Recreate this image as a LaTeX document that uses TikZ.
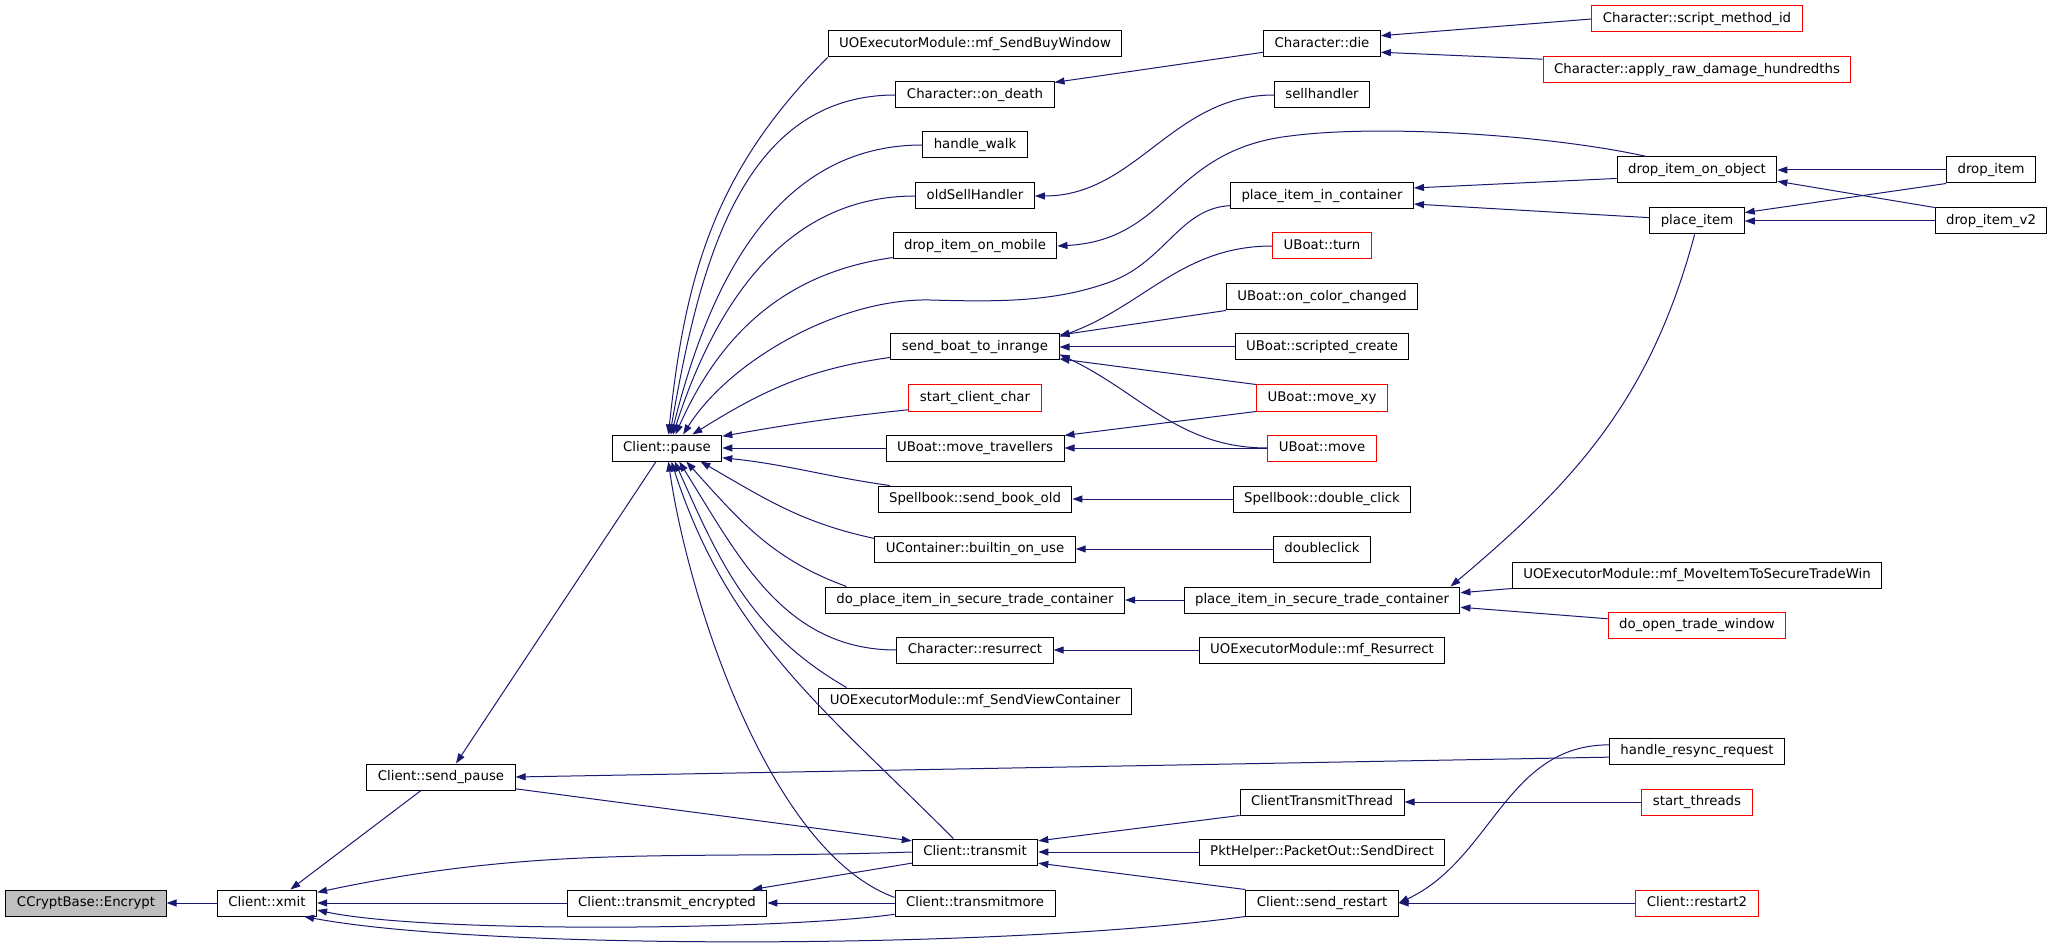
\documentclass[tikz,border=0pt]{standalone}
\usepackage{fontspec}
\setmainfont{DejaVu Sans}
\usetikzlibrary{arrows.meta}
\definecolor{calledge}{HTML}{191970}
\definecolor{rootfill}{HTML}{BFBFBF}
\tikzset{
    %Define standard arrow tip
    >={Triangle[length=10pt,width=7pt]},
    %Define style for function boxes
    func/.style={
           rectangle,
           draw=black, line width=1pt,
           minimum height=26pt,
           inner xsep=11pt, inner ysep=0pt,
           text height=10pt, text depth=3pt,
           font=\fontsize{13.3}{16}\selectfont},
    funcred/.style={
           func,
           draw=red},
    funcroot/.style={
           func,
           fill=rootfill},
    % Define arrow style
    call/.style={
           ->,
           draw=calledge,
           line width=1pt}
}
\begin{document}
\begin{tikzpicture}[x=1pt,y=-1pt,every edge/.style={call}]
\useasboundingbox (0,0) rectangle (2053,949);
 %nodes
\node[funcroot] (encrypt) at (86,903) {CCryptBase::Encrypt};
\node[func] (xmit) at (267,903) {Client::xmit};
\node[func] (sendpause) at (441,777) {Client::send\_pause};
\node[func] (pause) at (667,448) {Client::pause};
\node[func] (transmitenc) at (667,903) {Client::transmit\_encrypted};
 % second column
\node[func] (sendbuy) at (975,44) {UOExecutorModule::mf\_SendBuyWindow};
\node[func] (ondeath) at (975,95) {Character::on\_death};
\node[func] (handlewalk) at (975,145) {handle\_walk};
\node[func] (oldsell) at (975,196) {oldSellHandler};
\node[func] (dropmobile) at (975,246) {drop\_item\_on\_mobile};
\node[func] (sendboat) at (975,347) {send\_boat\_to\_inrange};
\node[funcred] (startclient) at (975,398) {start\_client\_char};
\node[func] (movetrav) at (975,448) {UBoat::move\_travellers};
\node[func] (sendbook) at (975,499) {Spellbook::send\_book\_old};
\node[func] (builtin) at (975,549) {UContainer::builtin\_on\_use};
\node[func] (doplace) at (975,600) {do\_place\_item\_in\_secure\_trade\_container};
\node[func] (resurrect) at (975,650) {Character::resurrect};
\node[func] (sendview) at (975,701) {UOExecutorModule::mf\_SendViewContainer};
\node[func] (transmit) at (975,852) {Client::transmit};
\node[func] (transmitmore) at (975,903) {Client::transmitmore};
 % third column
\node[func] (die) at (1322,44) {Character::die};
\node[func] (sellhandler) at (1322,95) {sellhandler};
\node[func] (placecont) at (1322,196) {place\_item\_in\_container};
\node[funcred] (turn) at (1322,246) {UBoat::turn};
\node[func] (colorchg) at (1322,297) {UBoat::on\_color\_changed};
\node[func] (scripted) at (1322,347) {UBoat::scripted\_create};
\node[funcred] (movexy) at (1322,398) {UBoat::move\_xy};
\node[funcred] (move) at (1322,448) {UBoat::move};
\node[func] (dblclickbook) at (1322,499) {Spellbook::double\_click};
\node[func] (dblclick) at (1322,549) {doubleclick};
\node[func] (placesecure) at (1322,600) {place\_item\_in\_secure\_trade\_container};
\node[func] (mfresurrect) at (1322,650) {UOExecutorModule::mf\_Resurrect};
\node[func] (ctthread) at (1322,802) {ClientTransmitThread};
\node[func] (pkthelper) at (1322,852) {PktHelper::PacketOut::SendDirect};
\node[func] (sendrestart) at (1322,903) {Client::send\_restart};
 % fourth column
\node[funcred] (scriptid) at (1697,19) {Character::script\_method\_id};
\node[funcred] (rawdamage) at (1697,70) {Character::apply\_raw\_damage\_hundredths};
\node[func] (dropobj) at (1697,170) {drop\_item\_on\_object};
\node[func] (placeitem) at (1697,221) {place\_item};
\node[func] (mfmove) at (1697,575) {UOExecutorModule::mf\_MoveItemToSecureTradeWin};
\node[funcred] (opentrade) at (1697,625) {do\_open\_trade\_window};
\node[func] (resync) at (1697,751) {handle\_resync\_request};
\node[funcred] (threads) at (1697,802) {start\_threads};
\node[funcred] (restart) at (1697,903) {Client::restart2};
 % fifth column
\node[func] (dropitem) at (1991,170) {drop\_item};
\node[func] (dropv2) at (1991,221) {drop\_item\_v2};
 %edges
\path (xmit) edge (encrypt)
      (transmitenc) edge (xmit)
      (sendpause.-146) edge (xmit.30)
      (transmit.west) edge[out=182,in=12] (xmit.12)
      (transmitmore.188) edge[out=188,in=-12,looseness=.5] (xmit.-8)
      (pause.-129) edge (sendpause.42)
      (resync.184) edge (sendpause.east)
      (sendpause.-9) edge (transmit.170)
      (transmit.190) edge (transmitenc.9)
      (transmitmore.west) edge (transmitenc.east);
\draw[call] (sendrestart.south west) .. controls (1000,950) and (480,950) .. (xmit.-20);
 % callers of Client::pause
\path (sendbuy.south west) edge[out=225,in=84] (pause.84)
      (ondeath.west) edge[out=180,in=80] (pause.78)
      (handlewalk.west) edge[out=180,in=76] (pause.72)
      (oldsell.west) edge[out=180,in=72] (pause.66)
      (dropmobile.188) edge[out=188,in=66] (pause.58)
      (sendboat.187) edge[out=188,in=32] (pause.28)
      (startclient.190) edge[out=186,in=10] (pause.12)
      (movetrav.west) edge (pause.east)
      (sendbook.171) edge[out=172,in=-6] (pause.-10)
      (builtin.174) edge[out=168,in=-30] (pause.-22)
      (doplace.174) edge[out=160,in=-48] (pause.-35)
      (resurrect.west) edge[out=180,in=-58] (pause.-48)
      (sendview.174) edge[out=150,in=-66] (pause.-60)
      (transmit.148) edge[out=135,in=-72] (pause.-72)
      (transmitmore.176) edge[out=160,in=-82,looseness=.7] (pause.-84);
\draw[call] (placecont.186) .. controls (1180,208) and (1165,262) .. (1110,282)
      .. controls (1055,302) and (1000,302) .. (930,300)
      .. controls (840,298) and (730,360) .. (pause.40);
\draw[call] (dropobj.165) .. controls (1550,135) and (1380,124) .. (1290,136)
      .. controls (1170,150) and (1170,240) .. (dropmobile.east);
 % right part
\path (scriptid.west) edge (die.8)
      (rawdamage.176) edge (die.-8)
      (die.188) edge (ondeath.9)
      (sellhandler.west) edge[out=180,in=0] (oldsell.east)
      (dropitem.west) edge (dropobj.east)
      (dropv2.north west) edge (dropobj.-8)
      (dropitem.south west) edge (placeitem.10)
      (dropv2.west) edge (placeitem.east)
      (dropobj.186) edge (placecont.5)
      (placeitem.176) edge (placecont.-5)
      (placeitem.-100) edge[out=-105,in=40] (placesecure.6)
      (mfmove.south west) edge (placesecure.3)
      (opentrade.176) edge (placesecure.-3)
      (placesecure.west) edge (doplace.east)
      (mfresurrect.west) edge (resurrect.east)
      (dblclickbook.west) edge (sendbook.east)
      (dblclick.west) edge (builtin.east)
      (turn.west) edge[out=180,in=20] (sendboat.7)
      (colorchg.south west) edge (sendboat.8)
      (scripted.west) edge (sendboat.east)
      (movexy.north west) edge (sendboat.-8)
      (move.west) edge[out=180,in=-25] (sendboat.-5)
      (movexy.south west) edge (movetrav.8)
      (move.west) edge (movetrav.east)
      (ctthread.south west) edge (transmit.10)
      (pkthelper.west) edge (transmit.east)
      (sendrestart.north west) edge (transmit.-10)
      (threads.west) edge (ctthread.east)
      (restart.west) edge (sendrestart.east)
      (resync.176) edge[out=180,in=25] (sendrestart.east);
\end{tikzpicture}
\end{document}
